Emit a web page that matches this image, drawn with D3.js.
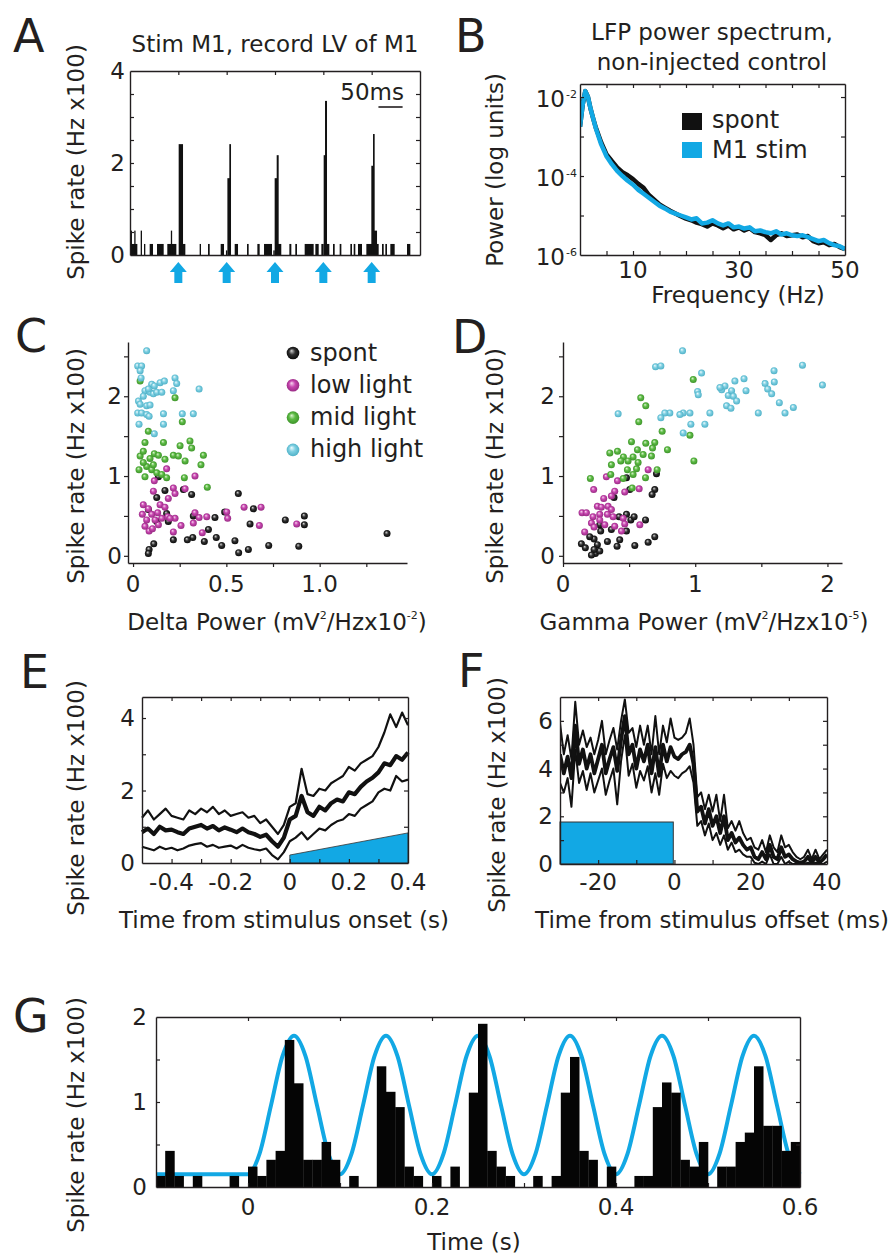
<!DOCTYPE html>
<html><head><meta charset="utf-8">
<script src="https://cdn.jsdelivr.net/npm/d3@7"></script>
<style>
body{margin:0;background:#fff;}
svg{display:block;font-family:"DejaVu Sans",sans-serif;}
</style></head><body>
<svg id="fig" width="896" height="1259"></svg>
<script>
// ---------------- DATA ----------------
// Panel A: PSTH (ms, Hz x100)
const aStimTimes = [100, 200, 300, 400, 500];
const aBarStart = [1.4,1.4,8.8,22.1,29.0,40.7,55.9,77.2,84.5,100.7,109.7,144.1,161.4,187.6,198.5,201.5,205.5,216.6,242.1,263.5,277.3,296.5,299.3,303.5,306.2,329.7,342.0,361.4,383.5,395.9,400.7,403.5,406.2,420.0,433.8,455.9,462.8,471.7,489.0,499.3,502.8,504.2,521.4,528.3,538.6,573.1];
const aBarEnd = [15.2,2.4,9.7,24.8,31.7,47.6,69.7,95.9,86.5,109.7,114.5,146.9,164.9,194.5,201.5,206.9,209.0,223.5,245.5,268.3,293.8,299.5,306.2,307.6,313.0,333.8,345.5,380.0,390.4,400.7,406.2,407.6,412.4,423.5,437.3,459.3,466.2,480.0,514.5,504.2,506.2,511.1,524.9,531.7,547.6,580.0];
const aBarHeight = [0.24,0.53,0.53,0.53,0.24,0.24,0.24,0.24,0.53,2.41,0.24,0.24,0.24,0.24,0.1,1.67,2.41,0.24,0.24,0.24,0.24,0.1,1.67,2.17,0.24,0.24,0.24,0.24,0.24,0.24,2.17,3.35,0.24,0.24,0.24,0.24,0.24,0.24,0.24,1.94,2.63,0.53,0.24,0.24,0.24,0.24];
const aYTickLabels = [0, 2, 4];

// Panel B: LFP power spectrum (Hz, log10 power)
const bFreq = [0,0.5,1,1.5,2,2.5,3,4,5,6,7,8,9,10,11,12,13,14,15,16,17,18,19,20,21,22,23,24,25,26,27,28,29,30,31,32,33,34,35,36,37,38,39,40,41,42,43,44,45,46,47,48,49,50];
const bSpontExp = [-2.75,-2.2,-1.85,-2.0,-2.3,-2.55,-2.78,-3.15,-3.45,-3.62,-3.78,-3.9,-3.98,-4.08,-4.2,-4.3,-4.48,-4.6,-4.72,-4.8,-4.88,-4.95,-5.02,-5.08,-5.12,-5.18,-5.22,-5.28,-5.2,-5.25,-5.32,-5.25,-5.35,-5.3,-5.38,-5.32,-5.42,-5.45,-5.5,-5.62,-5.5,-5.45,-5.52,-5.5,-5.48,-5.55,-5.52,-5.65,-5.7,-5.68,-5.75,-5.72,-5.8,-5.85];
const bStimExp = [-2.75,-2.2,-1.85,-2.0,-2.3,-2.55,-2.8,-3.2,-3.5,-3.7,-3.87,-4.0,-4.12,-4.22,-4.35,-4.45,-4.55,-4.65,-4.75,-4.82,-4.9,-4.95,-5.0,-5.05,-5.1,-5.07,-5.2,-5.18,-5.12,-5.2,-5.25,-5.2,-5.3,-5.28,-5.33,-5.3,-5.4,-5.38,-5.42,-5.45,-5.4,-5.48,-5.45,-5.5,-5.52,-5.5,-5.55,-5.6,-5.65,-5.62,-5.7,-5.75,-5.78,-5.85];
const bSeriesNames = ["spont", "M1 stim"];

// Panel C: delta power vs spike rate
const cSpontX = [0.136,0.171,0.27,0.314,0.564,0.127,0.082,0.18,0.323,0.439,0.491,0.645,0.189,0.404,0.127,0.627,0.816,0.918,0.918,0.32,0.291,0.216,0.382,0.446,0.546,0.475,0.618,0.566,0.727,0.888,0.111,0.086,0.082,1.361];
const cSpontY = [0.99,0.82,0.83,0.77,0.78,0.73,0.58,0.53,0.50,0.48,0.55,0.59,0.43,0.33,0.43,0.40,0.45,0.50,0.39,0.23,0.20,0.20,0.18,0.23,0.19,0.13,0.08,0.04,0.13,0.12,0.15,0.08,0.03,0.28];
const cLowX = [0.18,0.332,0.114,0.216,0.279,0.109,0.225,0.189,0.055,0.145,0.171,0.082,0.05,0.10,0.132,0.154,0.186,0.225,0.257,0.332,0.354,0.395,0.323,0.371,0.502,0.507,0.595,0.686,0.677,0.877,0.064,0.086,0.104,0.136,0.216,0.198,0.073,0.118];
const cLowY = [1.09,1.0,0.94,0.85,0.84,0.81,0.78,0.72,0.64,0.64,0.61,0.59,0.52,0.52,0.54,0.47,0.49,0.47,0.38,0.54,0.48,0.49,0.41,0.29,0.55,0.47,0.61,0.61,0.38,0.40,0.37,0.31,0.34,0.39,0.30,0.47,0.45,0.45];
const cMidX = [0.038,0.225,0.264,0.082,0.064,0.163,0.305,0.314,0.252,0.038,0.055,0.091,0.114,0.136,0.216,0.243,0.279,0.377,0.364,0.032,0.073,0.10,0.127,0.064,0.154,0.18,0.275,0.398,0.055,0.171,0.109];
const cMidY = [2.19,1.98,1.68,1.56,1.42,1.42,1.44,1.35,1.38,1.25,1.31,1.22,1.28,1.26,1.26,1.25,1.19,1.26,1.14,1.08,1.12,1.08,1.04,0.99,1.02,0.98,0.98,0.86,1.17,1.21,1.14];
const cHighX = [0.073,0.025,0.046,0.038,0.043,0.10,0.114,0.145,0.168,0.225,0.234,0.064,0.091,0.109,0.127,0.154,0.216,0.354,0.029,0.038,0.073,0.091,0.025,0.046,0.073,0.086,0.163,0.264,0.323,0.032,0.163,0.114,0.082,0.055];
const cHighY = [2.57,2.38,2.38,2.32,2.23,2.15,2.13,2.17,2.19,2.23,2.16,2.07,2.05,2.03,2.05,2.05,2.07,2.09,1.94,1.90,1.88,1.89,1.79,1.79,1.77,1.75,1.78,1.78,1.78,1.65,1.65,1.53,2.09,2.0];
const groupNames = ["spont", "low light", "mid light", "high light"];

// Panel D: gamma power vs spike rate
const dSpontX = [0.707,0.48,0.694,0.674,0.386,0.505,0.424,0.48,0.513,0.538,0.624,0.278,0.285,0.366,0.48,0.336,0.429,0.409,0.543,0.644,0.694,0.139,0.169,0.235,0.26,0.245,0.278,0.235,0.215,0.202];
const dSpontY = [1.03,0.98,0.83,0.77,0.73,0.83,0.49,0.52,0.45,0.49,0.45,0.39,0.31,0.33,0.31,0.18,0.20,0.12,0.13,0.17,0.24,0.15,0.10,0.21,0.14,0.03,0.06,0.08,0.01,0.24];
const dLowX = [0.644,0.328,0.412,0.232,0.391,0.467,0.576,0.308,0.366,0.26,0.29,0.341,0.366,0.144,0.177,0.227,0.278,0.336,0.379,0.215,0.164,0.235,0.391,0.455,0.467,0.581,0.442,0.278,0.316];
const dLowY = [1.08,0.99,0.94,0.83,0.81,0.80,0.84,0.72,0.75,0.62,0.61,0.62,0.58,0.54,0.54,0.49,0.52,0.52,0.49,0.41,0.30,0.36,0.37,0.47,0.40,0.39,0.31,0.45,0.39];
const dMidX = [0.985,0.588,0.626,0.573,0.75,0.96,0.79,0.99,0.518,0.626,0.694,0.677,0.563,0.606,0.669,0.354,0.412,0.457,0.53,0.437,0.492,0.568,0.366,0.487,0.556,0.712,0.361,0.53,0.624,0.455,0.207,0.523];
const dMidY = [2.21,1.98,1.88,1.68,1.56,1.51,1.33,1.19,1.43,1.41,1.42,1.35,1.33,1.27,1.25,1.29,1.31,1.24,1.24,1.19,1.19,1.17,1.14,1.08,1.09,1.08,1.02,1.02,0.98,0.97,0.97,0.85];
const dHighX = [0.904,0.70,0.74,1.048,1.596,1.811,1.962,1.30,1.369,1.528,1.598,1.548,1.578,1.636,1.742,1.679,1.477,1.384,1.20,1.225,1.25,1.275,1.288,1.313,1.237,1.27,1.018,1.023,1.111,1.073,0.967,0.909,0.96,0.884,0.808,0.77,0.74,0.417,0.909,1.187];
const dHighY = [2.57,2.37,2.38,2.29,2.32,2.39,2.14,2.19,2.22,2.16,2.18,2.09,2.03,1.92,1.86,1.79,1.79,2.07,2.08,2.13,2.01,2.07,2.0,1.94,1.88,1.85,2.06,2.02,1.79,1.65,1.65,1.79,1.79,1.77,1.79,1.79,1.73,1.78,1.54,2.11];

// Panel E: rate vs time from stimulus onset (s)
const eTime = [-0.50,-0.48,-0.46,-0.44,-0.42,-0.40,-0.38,-0.36,-0.34,-0.32,-0.30,-0.28,-0.26,-0.24,-0.22,-0.20,-0.18,-0.16,-0.14,-0.12,-0.10,-0.08,-0.06,-0.04,-0.02,0.00,0.02,0.04,0.06,0.08,0.10,0.12,0.14,0.16,0.18,0.20,0.22,0.24,0.26,0.28,0.30,0.32,0.34,0.36,0.38,0.40];
const eMean = [0.85,0.95,0.80,1.00,0.90,0.92,0.85,0.80,0.95,1.00,1.05,0.95,1.02,0.90,0.98,0.92,0.85,0.95,0.85,0.80,0.72,0.78,0.60,0.45,0.70,1.20,1.30,1.85,1.40,1.30,1.55,1.45,1.65,1.75,1.70,1.95,1.90,2.10,2.25,2.35,2.50,2.75,2.70,2.95,2.85,3.05];
const eUpper = [1.25,1.45,1.20,1.35,1.50,1.30,1.25,1.20,1.45,1.35,1.50,1.40,1.55,1.35,1.45,1.30,1.35,1.40,1.25,1.30,1.10,1.20,1.00,0.80,1.05,1.55,1.65,2.60,1.90,1.85,2.05,2.00,2.20,2.30,2.40,2.65,2.55,2.75,2.85,2.95,3.20,3.60,4.10,3.75,4.15,3.80];
const eLower = [0.45,0.40,0.35,0.45,0.38,0.42,0.35,0.40,0.48,0.52,0.55,0.45,0.50,0.42,0.45,0.48,0.40,0.50,0.42,0.38,0.35,0.40,0.22,0.10,0.30,0.60,0.70,0.85,0.65,0.80,0.95,0.90,1.05,1.15,1.20,1.35,1.30,1.50,1.60,1.70,1.95,2.05,2.00,2.40,2.25,2.30];
const eRampTime = [0, 0, 0.4, 0.4];
const eRampLevel = [0, 0.22, 0.83, 0];

// Panel F: rate vs time from stimulus offset (ms)
const fTime = [-30,-29,-28,-27,-26,-25,-24,-23,-22,-21,-20,-19,-18,-17,-16,-15,-14,-13,-12,-11,-10,-9,-8,-7,-6,-5,-4,-3,-2,-1,0,1,2,3,4,5,6,7,8,9,10,11,12,13,14,15,16,17,18,19,20,21,22,23,24,25,26,27,28,29,30,31,32,33,34,35,36,37,38,39,40];
const fMean = [4.6,3.8,4.5,3.6,5.8,4.2,4.8,4.0,4.6,3.8,4.4,5.0,3.8,4.4,4.9,3.9,5.2,6.2,4.6,5.0,4.0,4.8,4.3,5.0,3.8,4.9,3.7,5.0,4.3,4.9,4.5,4.4,4.6,4.7,5.0,4.2,2.2,2.4,1.7,2.3,1.6,2.0,1.3,2.0,1.0,1.3,0.9,1.1,0.8,0.6,0.7,0.3,0.2,0.5,0.2,0.8,0.3,0.2,0.7,0.3,0.4,0.2,0.1,0.05,0.1,0.3,0.05,0.3,0.05,0.2,0.4];
const fUpper = [5.9,4.6,5.4,4.4,6.8,5.0,5.6,4.9,5.3,4.6,5.2,6.0,4.6,5.2,5.7,4.8,6.0,6.9,5.5,5.7,4.9,5.8,5.0,5.8,4.6,6.2,4.6,5.8,5.1,6.1,5.3,5.2,5.3,5.5,6.1,5.0,2.8,3.0,2.3,2.9,2.2,2.9,1.8,2.9,1.5,1.8,1.4,1.8,1.3,1.0,1.1,0.7,0.6,1.0,0.5,1.2,0.7,0.5,1.2,0.7,0.8,0.5,0.3,0.2,0.3,0.6,0.2,0.6,0.2,0.4,0.6];
const fLower = [3.4,3.0,3.6,2.4,4.8,3.4,3.9,3.1,3.8,3.0,3.5,4.0,2.9,3.5,4.0,2.5,4.3,5.4,3.7,4.2,3.2,3.9,3.5,4.1,3.0,3.8,2.9,4.2,3.6,3.9,3.7,3.6,3.8,3.9,4.1,3.4,1.6,1.8,1.2,1.7,1.0,1.3,0.8,1.2,0.6,0.9,0.5,0.6,0.4,0.3,0.3,0.05,0.0,0.1,0.0,0.4,0.0,0.0,0.3,0.0,0.1,0.0,0.0,0.0,0.0,0.05,0.0,0.05,0.0,0.0,0.1];
const fStimStart = -30, fStimEnd = -0.3, fStimLevel = 1.76;

// Panel G: PSTH with sinusoidal stimulus (s, Hz x100)
const gBinStart = [-0.10,-0.09,-0.08,-0.07,-0.06,-0.05,-0.04,-0.03,-0.02,-0.01,0.00,0.01,0.02,0.03,0.04,0.05,0.06,0.07,0.08,0.09,0.10,0.11,0.12,0.13,0.14,0.15,0.16,0.17,0.18,0.19,0.20,0.21,0.22,0.23,0.24,0.25,0.26,0.27,0.28,0.29,0.30,0.31,0.32,0.33,0.34,0.35,0.36,0.37,0.38,0.39,0.40,0.41,0.42,0.43,0.44,0.45,0.46,0.47,0.48,0.49,0.50,0.51,0.52,0.53,0.54,0.55,0.56,0.57,0.58,0.59];
const gRate = [0.13,0.425,0.13,0,0.13,0,0,0,0.13,0,0.24,0.13,0.32,0.425,1.73,1.22,0.32,0.32,0.53,0.32,0,0.13,0,0,1.42,1.12,0.94,0.24,0.13,0,0.13,0,0.24,0,1.11,1.92,0.425,0.24,0.13,0,0,0.13,0,0.13,1.11,1.53,0.425,0.32,0,0.24,0,0,0.13,0.13,0.94,1.23,1.11,0.32,0.24,0.53,0,0.24,0.24,0.53,0.64,1.42,0.72,0.72,0.425,0.53];
const gBinWidth = 0.01;
const gSineTime = [-0.1,0,0.0125,0.025,0.0375,0.05,0.0625,0.075,0.0875,0.1,0.1125,0.125,0.1375,0.15,0.1625,0.175,0.1875,0.2,0.2125,0.225,0.2375,0.25,0.2625,0.275,0.2875,0.3,0.3125,0.325,0.3375,0.35,0.3625,0.375,0.3875,0.4,0.4125,0.425,0.4375,0.45,0.4625,0.475,0.4875,0.5,0.5125,0.525,0.5375,0.55,0.5625,0.575,0.5875,0.6];
const gSineRate = [0.15,0.15,0.39,0.96,1.54,1.78,1.54,0.96,0.39,0.15,0.39,0.96,1.54,1.78,1.54,0.96,0.39,0.15,0.39,0.96,1.54,1.78,1.54,0.96,0.39,0.15,0.39,0.96,1.54,1.78,1.54,0.96,0.39,0.15,0.39,0.96,1.54,1.78,1.54,0.96,0.39,0.15,0.39,0.96,1.54,1.78,1.54,0.96,0.39,0.15];

// ---------------- DRAWING ----------------
const INK = "#231f20", BLUE = "#12a8e4";
const svg = d3.select("#fig");
const defs = svg.append("defs");
const sphereColors = {spont:["#d4d4d4","#303030","#050505"], low:["#f7d9ef","#c846b0","#92287e"], mid:["#def3d2","#5dbb45","#3a8f27"], high:["#f0fbfd","#7fd0e2","#49adc4"]};
Object.entries(sphereColors).forEach(([k,c]) => {
  const g = defs.append("radialGradient").attr("id","sph-"+k).attr("cx","50%").attr("cy","50%").attr("r","55%").attr("fx","38%").attr("fy","32%");
  g.append("stop").attr("offset","0%").attr("stop-color",c[0]);
  g.append("stop").attr("offset","45%").attr("stop-color",c[1]);
  g.append("stop").attr("offset","100%").attr("stop-color",c[2]);
});

function txt(x, y, s, size = 23, anchor = "start") {
  return svg.append("text").attr("x", x).attr("y", y).attr("font-size", size)
    .attr("text-anchor", anchor).attr("fill", INK).text(s);
}
function vlabel(x, y, s, size = 23) {
  return svg.append("text").attr("transform", `translate(${x},${y}) rotate(-90)`)
    .attr("font-size", size).attr("text-anchor", "middle").attr("fill", INK).text(s);
}
function styleAxis(s) {
  s.selectAll("text").remove();
  s.select(".domain").attr("stroke", INK).attr("stroke-width", 1.4);
  s.selectAll(".tick line").attr("stroke", INK).attr("stroke-width", 1.2);
}
function boxAxes(x, y, t) {
  const [yb, yt] = y.range(), [xl, xr] = x.range();
  const g = svg.append("g");
  g.append("g").attr("transform", `translate(0,${yb})`).call(d3.axisBottom(x).tickValues(t.bottom).tickSizeInner(-4).tickSizeOuter(0)).call(styleAxis);
  g.append("g").attr("transform", `translate(0,${yt})`).call(d3.axisTop(x).tickValues(t.top).tickSizeInner(-4).tickSizeOuter(0)).call(styleAxis);
  g.append("g").attr("transform", `translate(${xl},0)`).call(d3.axisLeft(y).tickValues(t.left).tickSizeInner(-4).tickSizeOuter(0)).call(styleAxis);
  g.append("g").attr("transform", `translate(${xr},0)`).call(d3.axisRight(y).tickValues(t.right).tickSizeInner(-4).tickSizeOuter(0)).call(styleAxis);
}
function lAxes(x, y, xt, yt) {
  const g = svg.append("g");
  g.append("g").attr("transform", `translate(0,${y.range()[0]})`).call(d3.axisBottom(x).tickValues(xt).tickSizeInner(4).tickSizeOuter(0)).call(styleAxis);
  g.append("g").attr("transform", `translate(${x.range()[0]},0)`).call(d3.axisLeft(y).tickValues(yt).tickSizeInner(4).tickSizeOuter(0)).call(styleAxis);
}

// ===== Panel A =====
{
  const x = d3.scaleLinear([0, 600], [130, 420]);
  const y = d3.scaleLinear([0, 4], [255, 71]);
  svg.append("g").selectAll("rect").data(aBarStart).join("rect")
    .attr("x", (d, i) => x(d)).attr("width", (d, i) => Math.max(1.3, x(aBarEnd[i]) - x(d)))
    .attr("y", (d, i) => y(aBarHeight[i])).attr("height", (d, i) => y(0) - y(aBarHeight[i]))
    .attr("fill", "#111");
  boxAxes(x, y, {bottom: [], top: [100,200,300,400,500], left: [0.5,1,1.5,2,2.5,3,3.5], right: [0.5,1,1.5,2,2.5,3,3.5]});
  svg.append("g").selectAll("path").data(aStimTimes).join("path")
    .attr("d", d => { const c = x(d); return `M${c},262 L${c+8.5},272 L${c+4},272 L${c+4},283 L${c-4},283 L${c-4},272 L${c-8.5},272 Z`; })
    .attr("fill", BLUE);
  aYTickLabels.forEach(v => txt(125, y(v) + 8, v, 23, "end"));
  vlabel(84, 162, "Spike rate (Hz x100)");
  txt(13, 52, "A", 46);
  txt(275, 52, "Stim M1, record LV of M1", 23, "middle");
  txt(404, 100, "50ms", 23, "end");
  svg.append("line").attr("x1", x(514)).attr("x2", x(564)).attr("y1", 107).attr("y2", 107).attr("stroke", INK).attr("stroke-width", 1.6);
}

// ===== Panel B =====
{
  const x = d3.scaleLinear([0, 50], [580, 845]);
  const y = d3.scaleLog([1e-6, Math.pow(10, -1.67)], [255, 84]);
  const line = d3.line().x(d => x(d[0])).y(d => y(Math.pow(10, d[1])));
  const clip = defs.append("clipPath").attr("id", "clipB");
  clip.append("rect").attr("x", 580).attr("y", 84).attr("width", 265).attr("height", 171);
  const g = svg.append("g").attr("clip-path", "url(#clipB)");
  g.append("path").attr("d", line(bFreq.map((f, i) => [f, bSpontExp[i]]))).attr("fill", "none").attr("stroke", "#111").attr("stroke-width", 4.5).attr("stroke-linejoin", "round");
  g.append("path").attr("d", line(bFreq.map((f, i) => [f, bStimExp[i]]))).attr("fill", "none").attr("stroke", BLUE).attr("stroke-width", 4.5).attr("stroke-linejoin", "round");
  const ft = [5,10,15,20,25,30,35,40,45], pt = [1e-5,1e-4,1e-3,1e-2];
  boxAxes(x, y, {bottom: ft, top: ft, left: pt, right: pt});
  [1e-2, 1e-4, 1e-6].forEach((v, i) => {
    txt(565, y(v) + 9.5, "10", 23, "end");
    txt(566, y(v) + 0.5, ["-2", "-4", "-6"][i], 11, "start");
  });
  [10, 30, 50].forEach(v => txt(x(v), 278, v, 23, "middle"));
  txt(738, 303, "Frequency (Hz)", 23, "middle");
  vlabel(503, 170, "Power (log units)");
  txt(455, 52, "B", 46);
  txt(712, 40, "LFP power spectrum,", 23, "middle");
  txt(712, 70, "non-injected control", 23, "middle");
  svg.append("rect").attr("x", 682).attr("y", 113).attr("width", 20).attr("height", 17).attr("fill", "#111");
  svg.append("rect").attr("x", 682).attr("y", 142).attr("width", 20).attr("height", 16).attr("fill", BLUE);
  txt(712, 128, bSeriesNames[0], 24);
  txt(712, 158, bSeriesNames[1], 24);
}

function scatterGroup(x, y, xs, ys, key) {
  svg.append("g").selectAll("circle").data(xs).join("circle")
    .attr("cx", d => x(d)).attr("cy", (d, i) => y(ys[i])).attr("r", 3.5)
    .attr("fill", `url(#sph-${key})`);
}
function xLabelSup(cx, cy, pre, sup1, mid, sup2, post) {
  const t = svg.append("text").attr("x", cx).attr("y", cy).attr("font-size", 23).attr("text-anchor", "middle").attr("fill", INK);
  t.append("tspan").text(pre);
  t.append("tspan").attr("font-size", 11).attr("dy", -11).text(sup1);
  t.append("tspan").attr("dy", 11).text(mid);
  t.append("tspan").attr("font-size", 11).attr("dy", -11).text(sup2);
  t.append("tspan").attr("dy", 11).text(post);
}

// ===== Panel C =====
{
  const x = d3.scaleLinear([-0.027, 1.468], [128, 407]);
  const y = d3.scaleLinear([-0.09, 2.68], [563, 342]);
  scatterGroup(x, y, cSpontX, cSpontY, "spont");
  scatterGroup(x, y, cLowX, cLowY, "low");
  scatterGroup(x, y, cMidX, cMidY, "mid");
  scatterGroup(x, y, cHighX, cHighY, "high");
  lAxes(x, y, [0,0.25,0.5,0.75,1,1.25], [0,0.5,1,1.5,2,2.5]);
  [0,1,2].forEach(v => txt(122, y(v) + 8, v, 23, "end"));
  [[0,"0"],[0.5,"0.5"],[1,"1.0"]].forEach(([v,s]) => txt(x(v), 592, s, 23, "middle"));
  xLabelSup(277, 630, "Delta Power (mV", "2", "/Hzx10", "-2", ")");
  vlabel(84, 466, "Spike rate (Hz x100)");
  txt(15, 352, "C", 46);
  const keys = ["spont","low","mid","high"];
  keys.forEach((k, i) => {
    svg.append("circle").attr("cx", 293).attr("cy", 353 + i * 32.3).attr("r", 6.3).attr("fill", `url(#sph-${k})`);
    txt(310, 361 + i * 32, groupNames[i], 24);
  });
}

// ===== Panel D =====
{
  const x = d3.scaleLinear([0, 2.11], [563, 842]);
  const y = d3.scaleLinear([-0.09, 2.68], [563, 342]);
  scatterGroup(x, y, dSpontX, dSpontY, "spont");
  scatterGroup(x, y, dLowX, dLowY, "low");
  scatterGroup(x, y, dMidX, dMidY, "mid");
  scatterGroup(x, y, dHighX, dHighY, "high");
  lAxes(x, y, [0,0.5,1,1.5,2], [0,0.5,1,1.5,2,2.5]);
  [0,1,2].forEach(v => txt(555, y(v) + 8, v, 23, "end"));
  [0,1,2].forEach(v => txt(x(v), 592, v, 23, "middle"));
  xLabelSup(704, 630, "Gamma Power (mV", "2", "/Hzx10", "-5", ")");
  vlabel(503, 466, "Spike rate (Hz x100)");
  txt(452, 353, "D", 46);
}

// ===== Panel E =====
{
  const x = d3.scaleLinear([-0.5, 0.4], [142, 408]);
  const y = d3.scaleLinear([0, 4.58], [863, 697]);
  const poly = d3.line().x(d => x(d[0])).y(d => y(d[1]));
  svg.append("path").attr("d", poly(eRampTime.map((t, i) => [t, eRampLevel[i]])) + "Z")
    .attr("fill", BLUE).attr("stroke", "#333").attr("stroke-width", 0.8);
  const line = d3.line().x((d, i) => x(eTime[i])).y(d => y(d));
  [[eUpper,2.2],[eLower,2.2],[eMean,4.2]].forEach(([s, w]) =>
    svg.append("path").attr("d", line(s)).attr("fill", "none").attr("stroke", "#111").attr("stroke-width", w).attr("stroke-linejoin", "round"));
  const xt = [-0.4,-0.3,-0.2,-0.1,0,0.1,0.2,0.3];
  boxAxes(x, y, {bottom: xt, top: xt, left: [1,2,3,4], right: [1,2,3,4]});
  [0,2,4].forEach(v => txt(135, y(v) + 8, v, 23, "end"));
  [[-0.4,"-0.4"],[-0.2,"-0.2"],[0,"0"],[0.2,"0.2"],[0.4,"0.4"]].forEach(([v,s]) => txt(x(v), 890, s, 23, "middle"));
  txt(284, 928, "Time from stimulus onset (s)", 23, "middle");
  vlabel(84, 798, "Spike rate (Hz x100)");
  txt(20, 688, "E", 46);
}

// ===== Panel F =====
{
  const x = d3.scaleLinear([-30, 40], [560, 827]);
  const y = d3.scaleLinear([0, 7], [864, 697]);
  svg.append("rect").attr("x", x(fStimStart)).attr("y", y(fStimLevel))
    .attr("width", x(fStimEnd) - x(fStimStart)).attr("height", y(0) - y(fStimLevel))
    .attr("fill", BLUE).attr("stroke", "#333").attr("stroke-width", 1);
  const clip = defs.append("clipPath").attr("id", "clipF");
  clip.append("rect").attr("x", 560).attr("y", 697).attr("width", 267).attr("height", 167);
  const g = svg.append("g").attr("clip-path", "url(#clipF)");
  const line = d3.line().x((d, i) => x(fTime[i])).y(d => y(d));
  [[fUpper,2],[fLower,2],[fMean,3.8]].forEach(([s, w]) =>
    g.append("path").attr("d", line(s)).attr("fill", "none").attr("stroke", "#111").attr("stroke-width", w).attr("stroke-linejoin", "round"));
  const xt = [-20,-10,0,10,20,30];
  boxAxes(x, y, {bottom: xt, top: xt, left: [1,2,3,4,5,6], right: [1,2,3,4,5,6]});
  [0,2,4,6].forEach(v => txt(553, y(v) + 8, v, 23, "end"));
  [[-20,"-20"],[0,"0"],[20,"20"],[40,"40"]].forEach(([v,s]) => txt(x(v), 890, s, 23, "middle"));
  txt(712, 928, "Time from stimulus offset (ms)", 23, "middle");
  vlabel(505, 795, "Spike rate (Hz x100)");
  txt(458, 687, "F", 46);
}

// ===== Panel G =====
{
  const x = d3.scaleLinear([-0.1, 0.6], [156, 800]);
  const y = d3.scaleLinear([0, 2], [1187, 1017]);
  const sine = d3.line().x((d, i) => x(gSineTime[i])).y(d => y(d)).curve(d3.curveMonotoneX);
  svg.append("path").attr("d", sine(gSineRate)).attr("fill", "none").attr("stroke", BLUE).attr("stroke-width", 4);
  svg.append("g").selectAll("rect").data(gBinStart).join("rect")
    .attr("x", d => x(d)).attr("width", d => x(d + gBinWidth) - x(d) + 0.3)
    .attr("y", (d, i) => y(gRate[i])).attr("height", (d, i) => y(0) - y(gRate[i]))
    .attr("fill", "#050505");
  const xt = [0,0.1,0.2,0.3,0.4,0.5];
  boxAxes(x, y, {bottom: xt, top: xt, left: [0.5,1,1.5], right: [0.5,1,1.5]});
  [0,1,2].forEach(v => txt(147, y(v) + 8, v, 23, "end"));
  [[0,"0"],[0.2,"0.2"],[0.4,"0.4"],[0.6,"0.6"]].forEach(([v,s]) => txt(x(v), 1215, s, 23, "middle"));
  txt(474, 1250, "Time (s)", 23, "middle");
  vlabel(84, 1115, "Spike rate (Hz x100)");
  txt(13, 1032, "G", 46);
}
</script>
</body></html>
